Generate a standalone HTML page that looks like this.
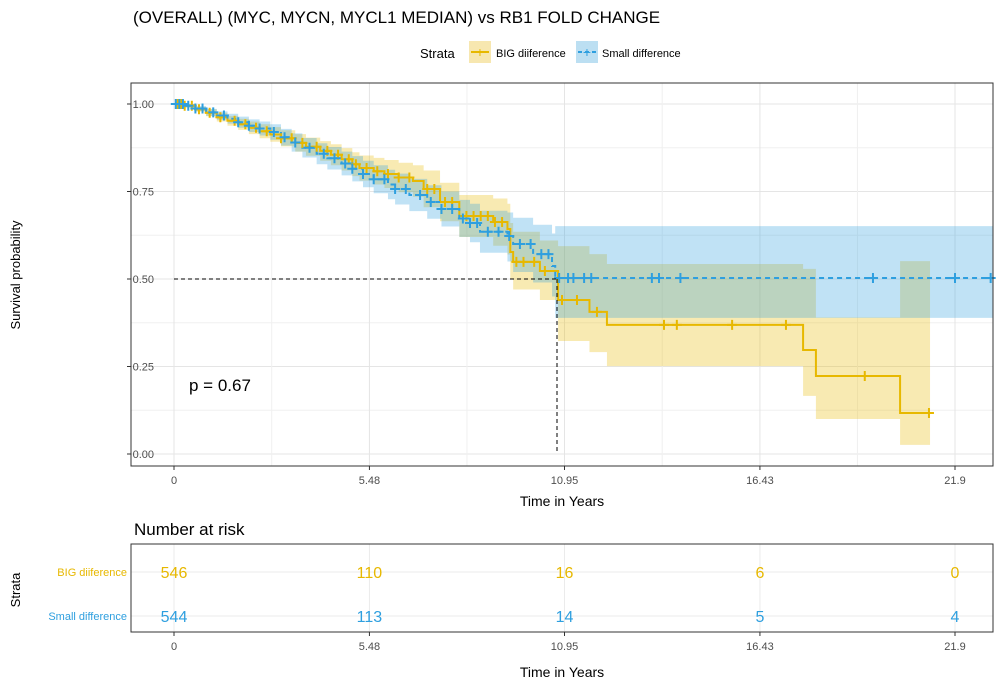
<!DOCTYPE html>
<html><head><meta charset="utf-8"><style>
body{margin:0;background:#fff;font-family:"Liberation Sans",Arial,sans-serif;}
svg text{font-family:"Liberation Sans",Arial,sans-serif;}
</style></head><body>
<svg id="chart" width="1000" height="685" xmlns="http://www.w3.org/2000/svg">
<text x="133" y="23" font-size="17" fill="#000">(OVERALL) (MYC, MYCN, MYCL1 MEDIAN) vs RB1 FOLD CHANGE</text>
<g>
<text x="420" y="58" font-size="13">Strata</text>
<g>
<rect x="469" y="41" width="22" height="22" fill="#f7e7b0"/><line x1="471" y1="52" x2="489" y2="52" stroke="#e7b800" stroke-width="2"/><text x="480" y="57" font-size="14" fill="#e7b800" text-anchor="middle">+</text>
<text x="496" y="57" font-size="11">BIG diiference</text></g>
<g>
<rect x="576" y="41" width="22" height="22" fill="#bcdff2"/><line x1="578" y1="52" x2="596" y2="52" stroke="#2e9fdf" stroke-width="2" stroke-dasharray="4,3"/><text x="587" y="57" font-size="14" fill="#2e9fdf" text-anchor="middle">+</text>
<text x="602" y="57" font-size="11">Small difference</text></g>
</g>
<g id="grid"></g>
<g id="bands"></g>
<g id="lines"></g>
<g id="marks"></g>
<line x1="174" y1="279" x2="557" y2="279" stroke="#000" stroke-dasharray="4,3"/>
<line x1="557" y1="279" x2="557" y2="454" stroke="#000" stroke-dasharray="4,3"/>
<rect x="131" y="83" width="862" height="383" fill="none" stroke="#333"/>
<g id="axes"></g>
<text x="189" y="391" font-size="17">p = 0.67</text>
<text transform="translate(20,275) rotate(-90)" font-size="13" text-anchor="middle">Survival probability</text>
<text x="562" y="506" font-size="14" text-anchor="middle">Time in Years</text>
<text x="134" y="535" font-size="17">Number at risk</text>
<g id="risk"></g>
<rect x="131" y="544" width="862" height="88" fill="none" stroke="#333"/>
<text transform="translate(20,590) rotate(-90)" font-size="13" text-anchor="middle">Strata</text>
<text x="562" y="677" font-size="14" text-anchor="middle">Time in Years</text>
</svg>
<script>
const xTicks=[0,5.48,10.95,16.43,21.9];
const xTickLabels=["0","5.48","10.95","16.43","21.9"];
const yTicks=[0,0.25,0.5,0.75,1];
const yTickLabels=["0.00","0.25","0.50","0.75","1.00"];
const goldTimes=[0,0.3,0.6,0.9,1.2,1.5,1.8,2.1,2.4,2.7,3.0,3.4,3.7,4.1,4.4,4.7,5.0,5.2,5.6,5.9,6.3,6.7,7.0,7.46,8.0,8.95,9.35,9.43,9.51,10.26,10.77,11.65,12.14,17.64,18.0,20.36];
const goldSurv=[1,.995,.985,.975,.962,.952,.942,.932,.922,.913,.902,.889,.878,.866,.855,.842,.828,.817,.808,.8,.79,.78,.757,.72,.68,.663,.643,.577,.549,.523,.44,.406,.369,.297,.223,.117];
const goldLo=[1,.99,.978,.965,.95,.938,.926,.914,.902,.892,.879,.864,.852,.838,.825,.81,.794,.781,.77,.76,.748,.735,.705,.665,.62,.595,.57,.5,.47,.44,.323,.291,.251,.166,.1,.026];
const goldHi=[1,1,.992,.985,.975,.966,.958,.95,.942,.934,.925,.914,.904,.894,.885,.874,.862,.853,.846,.84,.832,.825,.81,.775,.74,.73,.715,.66,.635,.61,.594,.571,.543,.529,.39,.551];
const goldEnd=21.2;
const goldCensor=[0.1,0.2,0.3,0.5,0.7,1.0,1.3,1.7,2.0,2.3,2.6,3.0,3.3,3.6,4.0,4.3,4.6,4.9,5.1,5.4,5.7,6.0,6.3,6.6,7.1,7.3,7.6,7.8,8.2,8.4,8.6,8.8,9.0,9.2,9.6,9.8,10.1,10.4,10.88,11.3,11.86,13.74,14.1,15.65,17.16,19.37,21.17];
const blueTimes=[0,0.3,0.6,0.9,1.2,1.5,1.8,2.1,2.4,2.7,3.0,3.3,3.6,4.0,4.3,4.7,5.0,5.3,5.6,6.0,6.2,6.6,7.1,7.5,8.0,8.3,8.58,9.35,9.51,10.07,10.6,10.69];
const blueSurv=[1,.995,.987,.976,.967,.958,.948,.938,.93,.92,.905,.89,.875,.858,.845,.83,.815,.8,.785,.77,.757,.74,.72,.7,.673,.66,.635,.623,.6,.571,.537,.503];
const blueLo=[1,.99,.98,.966,.955,.944,.932,.92,.91,.898,.881,.864,.847,.828,.813,.796,.779,.762,.745,.728,.713,.694,.672,.65,.62,.605,.575,.55,.52,.49,.45,.389];
const blueHi=[1,1,.994,.986,.979,.972,.964,.956,.95,.942,.929,.916,.903,.888,.877,.864,.851,.838,.825,.812,.801,.786,.768,.75,.726,.715,.695,.69,.675,.655,.63,.651];
const blueEnd=22.97;
const blueCensor=[0.05,0.15,0.25,0.4,0.6,0.8,1.1,1.4,1.8,2.1,2.4,2.8,3.1,3.4,3.8,4.2,4.5,4.8,5.0,5.3,5.6,5.9,6.2,6.5,6.9,7.2,7.5,7.8,8.1,8.3,8.5,8.8,9.1,9.4,9.7,10.0,10.3,10.5,10.8,11.05,11.2,11.5,11.7,13.4,13.6,14.2,19.6,21.9,22.9];
const riskTimes=[0,5.48,10.95,16.43,21.9];
const riskBig=[546,110,16,6,0];
const riskSmall=[544,113,14,5,4];
const NS="http://www.w3.org/2000/svg";
const X=t=>174+t*(955-174)/21.9;
const Y=s=>454-s*350;
function mk(tag,attrs,parent){const e=document.createElementNS(NS,tag);for(const k in attrs)e.setAttribute(k,attrs[k]);document.getElementById(parent).appendChild(e);return e;}
for(let i=0;i<yTicks.length;i++){
 const g=mk('line',{x1:131,x2:993,y1:Y(yTicks[i]),y2:Y(yTicks[i]),stroke:'#e5e5e5','stroke-width':1},'grid');
 
 
 if(i<yTicks.length-1){const m=mk('line',{x1:131,x2:993,y1:Y((yTicks[i]+yTicks[i+1])/2),y2:Y((yTicks[i]+yTicks[i+1])/2),stroke:'#f0f0f0','stroke-width':1},'grid');
 
 }
 const t=mk('text',{x:154,y:Y(yTicks[i])+4,'font-size':11,'text-anchor':'end',fill:'#4d4d4d'},'axes');t.textContent=yTickLabels[i];
 
 
 mk('line',{x1:127,x2:131,y1:Y(yTicks[i]),y2:Y(yTicks[i]),stroke:'#333'},'axes');
}
for(let i=0;i<xTicks.length;i++){
 const g=mk('line',{x1:X(xTicks[i]),x2:X(xTicks[i]),y1:83,y2:466,stroke:'#e5e5e5'},'grid');
 
 
 if(i<xTicks.length-1){const m=mk('line',{x1:X((xTicks[i]+xTicks[i+1])/2),x2:X((xTicks[i]+xTicks[i+1])/2),y1:83,y2:466,stroke:'#f0f0f0'},'grid');
 
 }
 const t=mk('text',{x:X(xTicks[i]),y:484,'font-size':11,'text-anchor':'middle',fill:'#4d4d4d'},'axes');t.textContent=xTickLabels[i];
 
 
 mk('line',{x1:X(xTicks[i]),x2:X(xTicks[i]),y1:466,y2:470,stroke:'#333'},'axes');
 const rg=mk('line',{x1:X(xTicks[i]),x2:X(xTicks[i]),y1:544,y2:632,stroke:'#ebebeb'},'risk');
 
 
 const rt=mk('text',{x:X(xTicks[i]),y:650,'font-size':11,'text-anchor':'middle',fill:'#4d4d4d'},'risk');rt.textContent=xTickLabels[i];
 
 
 mk('line',{x1:X(xTicks[i]),x2:X(xTicks[i]),y1:632,y2:636,stroke:'#333'},'risk');
}
function stepPath(times,vals,end){let d=`M${X(times[0])},${Y(vals[0])}`;for(let i=1;i<times.length;i++){d+=`H${X(times[i])}V${Y(vals[i])}`;}d+=`H${X(end)}`;return d;}
function bandPath(times,lo,hi,end){let up=[],dn=[];for(let i=0;i<times.length;i++){const x0=X(times[i]),x1=X(i+1<times.length?times[i+1]:end);up.push(`${x0},${Y(hi[i])}`,`${x1},${Y(hi[i])}`);dn.push(`${x0},${Y(lo[i])}`,`${x1},${Y(lo[i])}`);}return 'M'+up.join('L')+'L'+dn.reverse().join('L')+'Z';}
function valAt(times,vals,t){let v=vals[0];for(let i=0;i<times.length;i++)if(times[i]<=t)v=vals[i];return v;}
const gb=mk('path',{d:bandPath(goldTimes,goldLo,goldHi,goldEnd),fill:'#e7b800','fill-opacity':0.3},'bands');


const bb=mk('path',{d:bandPath(blueTimes,blueLo,blueHi,blueEnd),fill:'#2e9fdf','fill-opacity':0.3},'bands');


const gl=mk('path',{d:stepPath(goldTimes,goldSurv,goldEnd),fill:'none',stroke:'#e7b800','stroke-width':2},'lines');


const bl=mk('path',{d:stepPath(blueTimes,blueSurv,blueEnd),fill:'none',stroke:'#2e9fdf','stroke-width':2,'stroke-dasharray':'5,4'},'lines');


function censor(times,ts,vs,col,name){for(const t of ts){const x=X(t),y=Y(valAt(times,vs,t));const p=mk('path',{d:`M${x-5},${y}H${x+5}M${x},${y-5}V${y+5}`,stroke:col,'stroke-width':2},'marks');

}}
censor(goldTimes,goldCensor,goldSurv,'#e7b800','big-difference-censor-mark');
censor(blueTimes,blueCensor,blueSurv,'#2e9fdf','small-difference-censor-mark');
const rows=[{n:'BIG diiference',v:riskBig,y:572,c:'#e7b800'},{n:'Small difference',v:riskSmall,y:616,c:'#2e9fdf'}];
for(const r of rows){
 mk('line',{x1:131,x2:993,y1:r.y,y2:r.y,stroke:'#ebebeb'},'risk');
 const l=mk('text',{x:127,y:r.y+4,'font-size':11,'text-anchor':'end',fill:r.c},'risk');l.textContent=r.n;
 
 
 for(let i=0;i<riskTimes.length;i++){const t=mk('text',{x:X(riskTimes[i]),y:r.y+6,'font-size':16,'text-anchor':'middle',fill:r.c},'risk');t.textContent=r.v[i];
 
 }
}
</script>
</body></html>
